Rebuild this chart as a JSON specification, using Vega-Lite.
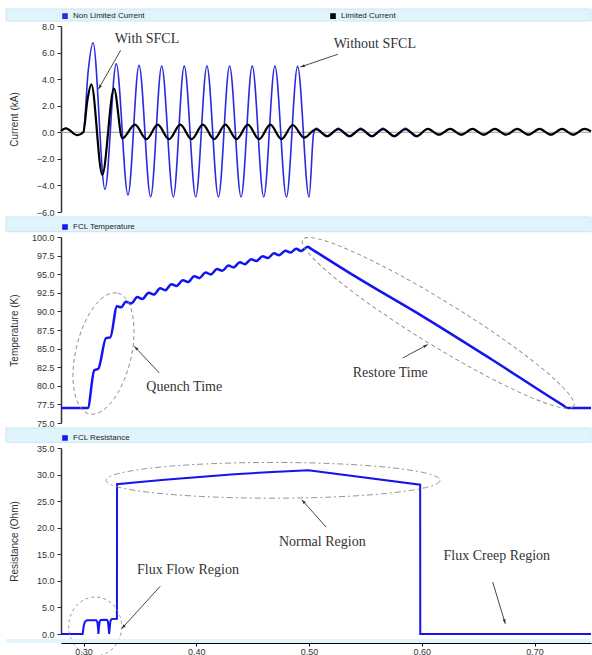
{
"$schema":"https://vega.github.io/schema/vega-lite/v6.json",
"padding":{"left":5,"top":8,"right":2,"bottom":0},
"background":"white",
"bounds":"flush",
"spacing":5,
"resolve":{"scale":{"color":"independent","y":"independent","x":"independent"},"legend":{"color":"independent"},"axis":{"y":"independent","x":"independent"}},
"config":{
  "view":{"stroke":null},
  "font":"Liberation Sans",
  "axis":{"grid":false,"labelOverlap":false,"labelSeparation":0,"domainColor":"#333333","domainWidth":1.5,"tickColor":"#333333","tickSize":4,"labelFont":"Liberation Sans","labelFontSize":9,"labelColor":"#333333","labelPadding":3,"titleFont":"Liberation Sans","titleFontSize":10,"titleFontWeight":"normal","titleColor":"#333333"},
  "legend":{"orient":"top","direction":"horizontal","offset":3,"padding":0,"symbolType":"square","symbolSize":9,"symbolStrokeWidth":2.6,"labelFont":"Liberation Sans","labelFontSize":8,"labelColor":"#222222","labelOffset":4}
},
"datasets":{
 "current":[
  {"s":"Non Limited Current","t":0.2800,"y":0.10},{"s":"Non Limited Current","t":0.2842,"y":0.30},{"s":"Non Limited Current","t":0.2945,"y":-0.22},{"s":"Non Limited Current","t":0.2998,"y":0.00},{"s":"Non Limited Current","t":0.3041,"y":4.60},{"s":"Non Limited Current","t":0.3084,"y":6.74},{"s":"Non Limited Current","t":0.3190,"y":-4.29},{"s":"Non Limited Current","t":0.3290,"y":5.16},{"s":"Non Limited Current","t":0.3394,"y":-4.72},{"s":"Non Limited Current","t":0.3492,"y":5.04},{"s":"Non Limited Current","t":0.3595,"y":-4.85},{"s":"Non Limited Current","t":0.3693,"y":4.98},{"s":"Non Limited Current","t":0.3796,"y":-4.87},{"s":"Non Limited Current","t":0.3893,"y":4.98},{"s":"Non Limited Current","t":0.3995,"y":-4.87},{"s":"Non Limited Current","t":0.4094,"y":4.98},{"s":"Non Limited Current","t":0.4196,"y":-4.87},{"s":"Non Limited Current","t":0.4295,"y":4.98},{"s":"Non Limited Current","t":0.4397,"y":-4.87},{"s":"Non Limited Current","t":0.4496,"y":4.98},{"s":"Non Limited Current","t":0.4598,"y":-4.87},{"s":"Non Limited Current","t":0.4697,"y":4.98},{"s":"Non Limited Current","t":0.4799,"y":-4.87},{"s":"Non Limited Current","t":0.4898,"y":4.96},{"s":"Non Limited Current","t":0.5000,"y":-4.87},{"s":"Non Limited Current","t":0.5040,"y":-0.10},{"s":"Non Limited Current","t":0.5065,"y":0.30},{"s":"Non Limited Current","t":0.5160,"y":-0.34},{"s":"Non Limited Current","t":0.5259,"y":0.30},{"s":"Non Limited Current","t":0.5359,"y":-0.34},{"s":"Non Limited Current","t":0.5458,"y":0.30},{"s":"Non Limited Current","t":0.5557,"y":-0.34},{"s":"Non Limited Current","t":0.5656,"y":0.30},{"s":"Non Limited Current","t":0.5755,"y":-0.34},{"s":"Non Limited Current","t":0.5854,"y":0.30},{"s":"Non Limited Current","t":0.5954,"y":-0.34},{"s":"Non Limited Current","t":0.6000,"y":-0.05},
  {"s":"Limited Current","t":0.2800,"y":0.10},{"s":"Limited Current","t":0.2842,"y":0.30},{"s":"Limited Current","t":0.2945,"y":-0.22},{"s":"Limited Current","t":0.2998,"y":0.00},{"s":"Limited Current","t":0.3034,"y":2.40},{"s":"Limited Current","t":0.3069,"y":3.60},{"s":"Limited Current","t":0.3166,"y":-3.20},{"s":"Limited Current","t":0.3270,"y":3.28},{"s":"Limited Current","t":0.3344,"y":-0.45},{"s":"Limited Current","t":0.3456,"y":0.58},{"s":"Limited Current","t":0.3558,"y":-0.52},{"s":"Limited Current","t":0.3658,"y":0.57},{"s":"Limited Current","t":0.3758,"y":-0.52},{"s":"Limited Current","t":0.3858,"y":0.57},{"s":"Limited Current","t":0.3958,"y":-0.52},{"s":"Limited Current","t":0.4058,"y":0.57},{"s":"Limited Current","t":0.4158,"y":-0.52},{"s":"Limited Current","t":0.4258,"y":0.57},{"s":"Limited Current","t":0.4357,"y":-0.52},{"s":"Limited Current","t":0.4457,"y":0.57},{"s":"Limited Current","t":0.4557,"y":-0.52},{"s":"Limited Current","t":0.4656,"y":0.57},{"s":"Limited Current","t":0.4756,"y":-0.52},{"s":"Limited Current","t":0.4855,"y":0.55},{"s":"Limited Current","t":0.4955,"y":-0.40},{"s":"Limited Current","t":0.5061,"y":0.23},{"s":"Limited Current","t":0.5160,"y":-0.28},{"s":"Limited Current","t":0.5259,"y":0.23},{"s":"Limited Current","t":0.5359,"y":-0.28},{"s":"Limited Current","t":0.5458,"y":0.23},{"s":"Limited Current","t":0.5557,"y":-0.28},{"s":"Limited Current","t":0.5656,"y":0.23},{"s":"Limited Current","t":0.5755,"y":-0.28},{"s":"Limited Current","t":0.5854,"y":0.23},{"s":"Limited Current","t":0.5954,"y":-0.28},{"s":"Limited Current","t":0.6053,"y":0.25},{"s":"Limited Current","t":0.6152,"y":-0.18},{"s":"Limited Current","t":0.6251,"y":0.25},{"s":"Limited Current","t":0.6350,"y":-0.18},{"s":"Limited Current","t":0.6449,"y":0.25},{"s":"Limited Current","t":0.6549,"y":-0.18},{"s":"Limited Current","t":0.6648,"y":0.25},{"s":"Limited Current","t":0.6747,"y":-0.18},{"s":"Limited Current","t":0.6846,"y":0.25},{"s":"Limited Current","t":0.6945,"y":-0.18},{"s":"Limited Current","t":0.7044,"y":0.25},{"s":"Limited Current","t":0.7144,"y":-0.18},{"s":"Limited Current","t":0.7243,"y":0.25},{"s":"Limited Current","t":0.7342,"y":-0.18},{"s":"Limited Current","t":0.7441,"y":0.25},{"s":"Limited Current","t":0.7500,"y":0.08}
 ],
 "temp":[
  {"t":0.2800,"y":77.0},{"t":0.3037,"y":77.0},{"t":0.3095,"y":82.1},{"t":0.3131,"y":82.3},{"t":0.3199,"y":86.4},{"t":0.3237,"y":86.5},{"t":0.3297,"y":90.7},{"t":0.3332,"y":90.55},{"t":0.3376,"y":91.30},{"t":0.3421,"y":91.05},{"t":0.3477,"y":91.92},{"t":0.3522,"y":91.67},{"t":0.3578,"y":92.52},{"t":0.3623,"y":92.27},{"t":0.3679,"y":93.10},{"t":0.3724,"y":92.85},{"t":0.3780,"y":93.66},{"t":0.3825,"y":93.41},{"t":0.3881,"y":94.20},{"t":0.3926,"y":93.95},{"t":0.3982,"y":94.72},{"t":0.4027,"y":94.47},{"t":0.4083,"y":95.22},{"t":0.4128,"y":94.97},{"t":0.4184,"y":95.70},{"t":0.4229,"y":95.45},{"t":0.4285,"y":96.16},{"t":0.4330,"y":95.91},{"t":0.4386,"y":96.60},{"t":0.4431,"y":96.35},{"t":0.4487,"y":97.02},{"t":0.4532,"y":96.77},{"t":0.4588,"y":97.42},{"t":0.4633,"y":97.17},{"t":0.4689,"y":97.80},{"t":0.4734,"y":97.55},{"t":0.4790,"y":98.16},{"t":0.4835,"y":97.91},{"t":0.4886,"y":98.42},{"t":0.4928,"y":98.12},{"t":0.4988,"y":98.70},{"t":0.5008,"y":98.51},{"t":0.5431,"y":94.50},{"t":0.6022,"y":89.20},{"t":0.6613,"y":83.60},{"t":0.7250,"y":77.40},{"t":0.7293,"y":77.0},{"t":0.7500,"y":77.0}
 ],
 "res":[
  {"t":0.2800,"y":0},{"t":0.2992,"y":0},{"t":0.3002,"y":1.6},{"t":0.3012,"y":2.3},{"t":0.3031,"y":2.6},{"t":0.3112,"y":2.6},{"t":0.3122,"y":2.3},{"t":0.3128,"y":1.2},{"t":0.3132,"y":0.0},{"t":0.3136,"y":1.2},{"t":0.3142,"y":2.3},{"t":0.3152,"y":2.65},{"t":0.3206,"y":2.7},{"t":0.3216,"y":2.4},{"t":0.3222,"y":1.2},{"t":0.3227,"y":0.0},{"t":0.3232,"y":1.2},{"t":0.3238,"y":2.4},{"t":0.3248,"y":2.8},{"t":0.3296,"y":2.85},{"t":0.3297,"y":28.2},{"t":0.3500,"y":28.6},{"t":0.3746,"y":29.05},{"t":0.4000,"y":29.5},{"t":0.4337,"y":30.05},{"t":0.4633,"y":30.45},{"t":0.4993,"y":30.8},{"t":0.5985,"y":28.1},{"t":0.5986,"y":0},{"t":0.7500,"y":0}
 ],
 "notes1":[{"t":0.3563,"y":7.02,"label":"With SFCL"},{"t":0.5583,"y":6.68,"label":"Without SFCL"}],
 "arrows1":[{"name":"with","t":0.3329,"y":6.17,"t2":0.3131,"y2":3.24},{"name":"without","t":0.5254,"y":5.87,"t2":0.4922,"y2":4.91}],
 "notes2":[{"t":0.3893,"y":79.8,"label":"Quench Time"},{"t":0.572,"y":81.75,"label":"Restore Time"}],
 "arrows2":[{"name":"quench","t":0.3672,"y":81.72,"t2":0.345,"y2":85.31},{"name":"restore","t":0.583,"y":83.74,"t2":0.6052,"y2":85.54}],
 "notes3":[{"t":0.5117,"y":17.3,"label":"Normal Region"},{"t":0.3926,"y":12.04,"label":"Flux Flow Region"},{"t":0.6665,"y":14.64,"label":"Flux Creep Region"}],
 "arrows3":[{"name":"normal","t":0.515,"y":20.14,"t2":0.4935,"y2":25.27},{"name":"flow","t":0.368,"y":8.98,"t2":0.3338,"y2":1.0},{"name":"creep","t":0.6628,"y":9.79,"t2":0.674,"y2":1.94}]
},
"vconcat":[
 {"width":530,"height":12,"data":{"values":[{}]},"mark":{"type":"rect","fill":"#e2f4fb","stroke":"#c6e7f4","strokeWidth":1},
  "encoding":{"x":{"datum":0.2312,"type":"quantitative","scale":{"domain":[0.28,0.75],"nice":false},"axis":null},"x2":{"datum":0.75}}},
 {"width":530,"height":186,
  "layer":[
   {"data":{"values":[{}]},"mark":{"type":"rule","color":"#9a9a9a","strokeWidth":1},"encoding":{"y":{"datum":0,"type":"quantitative","scale":{"domain":[-6,8],"nice":false},"axis":{"values":[-6,-4,-2,0,2,4,6,8],"tickCount":20,"format":".1f","title":"Current  (kA)","titleX":-47,"titleBaseline":"middle","labelOverlap":false}}}},
   {"data":{"name":"current"},"transform":[{"filter":"datum.s == 'Non Limited Current'"}],"mark":{"type":"line","interpolate":"monotone","strokeWidth":1.6},
    "encoding":{"x":{"field":"t","type":"quantitative","scale":{"domain":[0.28,0.75],"nice":false},"axis":null},
     "y":{"field":"y","type":"quantitative","title":"Current  (kA)"},
     "color":{"field":"s","type":"nominal","scale":{"domain":["Non Limited Current","Limited Current"],"range":["#2a2ae0","#000000"]},"legend":{"title":null,"columnPadding":181}}}},
   {"data":{"name":"current"},"transform":[{"filter":"datum.s == 'Limited Current'"}],"mark":{"type":"line","interpolate":"monotone","strokeWidth":2.2},
    "encoding":{"x":{"field":"t","type":"quantitative"},"y":{"field":"y","type":"quantitative","title":"Current  (kA)"},"color":{"field":"s","type":"nominal"}}},
   {"data":{"name":"notes1"},"mark":{"type":"text","font":"Liberation Serif","fontSize":14,"color":"#333333"},
    "encoding":{"x":{"field":"t","type":"quantitative"},"y":{"field":"y","type":"quantitative","title":"Current  (kA)"},"text":{"field":"label"}}},
   {"data":{"name":"arrows1"},"mark":{"type":"rule","color":"#333333","strokeWidth":0.9},
    "encoding":{"x":{"field":"t","type":"quantitative"},"y":{"field":"y","type":"quantitative","title":"Current  (kA)"},"x2":{"field":"t2"},"y2":{"field":"y2"}}},
   {"data":{"name":"arrows1"},"transform":[{"filter":"datum.name == 'with'"}],"mark":{"type":"point","shape":"M0,0L-0.6,1.8L0.6,1.8Z","size":25,"angle":211.3,"filled":true,"color":"#333333","opacity":1},
    "encoding":{"x":{"field":"t2","type":"quantitative"},"y":{"field":"y2","type":"quantitative","title":"Current  (kA)"}}},
   {"data":{"name":"arrows1"},"transform":[{"filter":"datum.name == 'without'"}],"mark":{"type":"point","shape":"M0,0L-0.6,1.8L0.6,1.8Z","size":25,"angle":251.2,"filled":true,"color":"#333333","opacity":1},
    "encoding":{"x":{"field":"t2","type":"quantitative"},"y":{"field":"y2","type":"quantitative","title":"Current  (kA)"}}}
  ]},
 {"width":530,"height":14.7,"data":{"values":[{}]},"mark":{"type":"rect","fill":"#e2f4fb","stroke":"#c6e7f4","strokeWidth":1},
  "encoding":{"x":{"datum":0.2312,"type":"quantitative","scale":{"domain":[0.28,0.75],"nice":false},"axis":null},"x2":{"datum":0.75}}},
 {"width":530,"height":186,
  "layer":[
   {"data":{"name":"temp"},"mark":{"type":"line","interpolate":"monotone","strokeWidth":2.5},
    "encoding":{"x":{"field":"t","type":"quantitative","scale":{"domain":[0.28,0.75],"nice":false},"axis":null},
     "y":{"field":"y","type":"quantitative","title":"Temperature (K)","scale":{"domain":[75,100],"nice":false},"axis":{"values":[75,77.5,80,82.5,85,87.5,90,92.5,95,97.5,100],"tickCount":20,"format":".1f","titleX":-47,"titleBaseline":"middle","labelOverlap":false}},
     "color":{"datum":"FCL Temperature","type":"nominal","scale":{"range":["#1414f0"]},"legend":{"title":null}}}},
   {"data":{"name":"notes2"},"mark":{"type":"text","font":"Liberation Serif","fontSize":14,"color":"#333333"},
    "encoding":{"x":{"field":"t","type":"quantitative"},"y":{"field":"y","type":"quantitative","title":"Temperature (K)"},"text":{"field":"label"}}},
   {"data":{"name":"arrows2"},"mark":{"type":"rule","color":"#333333","strokeWidth":0.9},
    "encoding":{"x":{"field":"t","type":"quantitative"},"y":{"field":"y","type":"quantitative","title":"Temperature (K)"},"x2":{"field":"t2"},"y2":{"field":"y2"}}},
   {"data":{"name":"arrows2"},"transform":[{"filter":"datum.name == 'quench'"}],"mark":{"type":"point","shape":"M0,0L-0.6,1.8L0.6,1.8Z","size":25,"angle":316.9,"filled":true,"color":"#333333","opacity":1},
    "encoding":{"x":{"field":"t2","type":"quantitative"},"y":{"field":"y2","type":"quantitative","title":"Temperature (K)"}}},
   {"data":{"name":"arrows2"},"transform":[{"filter":"datum.name == 'restore'"}],"mark":{"type":"point","shape":"M0,0L-0.6,1.8L0.6,1.8Z","size":25,"angle":61.8,"filled":true,"color":"#333333","opacity":1},
    "encoding":{"x":{"field":"t2","type":"quantitative"},"y":{"field":"y2","type":"quantitative","title":"Temperature (K)"}}},
   {"data":{"values":[{}]},"mark":{"type":"point","shape":"M1,0C1,0.2474,0.5523,0.448,0,0.448C-0.5523,0.448,-1,0.2474,-1,0C-1,-0.2474,-0.5523,-0.448,0,-0.448C0.5523,-0.448,1,-0.2474,1,0Z","size":15376,"angle":283.2,"filled":false,"stroke":"#8a8a8a","strokeWidth":0.9,"strokeDash":[4,3],"opacity":1},
    "encoding":{"x":{"datum":0.3177,"type":"quantitative"},"y":{"datum":84.34,"type":"quantitative","title":"Temperature (K)"}}},
   {"data":{"values":[{}]},"mark":{"type":"point","shape":"M1,0C1,0.0768,0.5523,0.139,0,0.139C-0.5523,0.139,-1,0.0768,-1,0C-1,-0.0768,-0.5523,-0.139,0,-0.139C0.5523,-0.139,1,-0.0768,1,0Z","size":101251,"angle":31.6,"filled":false,"stroke":"#8a8a8a","strokeWidth":0.9,"strokeDash":[4,3],"opacity":1},
    "encoding":{"x":{"datum":0.6145,"type":"quantitative"},"y":{"datum":88.45,"type":"quantitative","title":"Temperature (K)"}}}
  ]},
 {"width":530,"height":14.3,"data":{"values":[{}]},"mark":{"type":"rect","fill":"#e2f4fb","stroke":"#c6e7f4","strokeWidth":1},
  "encoding":{"x":{"datum":0.2312,"type":"quantitative","scale":{"domain":[0.28,0.75],"nice":false},"axis":null},"x2":{"datum":0.75}}},
 {"width":530,"height":186,
  "layer":[
   {"data":{"name":"res"},"mark":{"type":"line","interpolate":"linear","strokeWidth":2},
    "encoding":{"x":{"field":"t","type":"quantitative","scale":{"domain":[0.28,0.75],"nice":false},"axis":null},
     "y":{"field":"y","type":"quantitative","title":"Resistance (Ohm)","scale":{"domain":[0,35],"nice":false},"axis":{"values":[0,5,10,15,20,25,30,35],"tickCount":20,"format":".1f","titleX":-47,"titleBaseline":"middle","labelOverlap":false}},
     "color":{"datum":"FCL Resistance","type":"nominal","scale":{"range":["#1414f0"]},"legend":{"title":null}}}},
   {"data":{"name":"notes3"},"mark":{"type":"text","font":"Liberation Serif","fontSize":14,"color":"#333333"},
    "encoding":{"x":{"field":"t","type":"quantitative"},"y":{"field":"y","type":"quantitative","title":"Resistance (Ohm)"},"text":{"field":"label"}}},
   {"data":{"name":"arrows3"},"mark":{"type":"rule","color":"#333333","strokeWidth":0.9},
    "encoding":{"x":{"field":"t","type":"quantitative"},"y":{"field":"y","type":"quantitative","title":"Resistance (Ohm)"},"x2":{"field":"t2"},"y2":{"field":"y2"}}},
   {"data":{"name":"arrows3"},"transform":[{"filter":"datum.name == 'normal'"}],"mark":{"type":"point","shape":"M0,0L-0.6,1.8L0.6,1.8Z","size":25,"angle":318.3,"filled":true,"color":"#333333","opacity":1},
    "encoding":{"x":{"field":"t2","type":"quantitative"},"y":{"field":"y2","type":"quantitative","title":"Resistance (Ohm)"}}},
   {"data":{"name":"arrows3"},"transform":[{"filter":"datum.name == 'flow'"}],"mark":{"type":"point","shape":"M0,0L-0.6,1.8L0.6,1.8Z","size":25,"angle":222.3,"filled":true,"color":"#333333","opacity":1},
    "encoding":{"x":{"field":"t2","type":"quantitative"},"y":{"field":"y2","type":"quantitative","title":"Resistance (Ohm)"}}},
   {"data":{"name":"arrows3"},"transform":[{"filter":"datum.name == 'creep'"}],"mark":{"type":"point","shape":"M0,0L-0.6,1.8L0.6,1.8Z","size":25,"angle":163.2,"filled":true,"color":"#333333","opacity":1},
    "encoding":{"x":{"field":"t2","type":"quantitative"},"y":{"field":"y2","type":"quantitative","title":"Resistance (Ohm)"}}},
   {"data":{"values":[{}]},"mark":{"type":"point","shape":"M1,0C1,0.0591,0.5523,0.107,0,0.107C-0.5523,0.107,-1,0.0591,-1,0C-1,-0.0591,-0.5523,-0.107,0,-0.107C0.5523,-0.107,1,-0.0591,1,0Z","size":111556,"angle":0,"filled":false,"stroke":"#8a8a8a","strokeWidth":0.9,"strokeDash":[6,3,2,3],"opacity":1},
    "encoding":{"x":{"datum":0.468,"type":"quantitative"},"y":{"datum":28.92,"type":"quantitative","title":"Resistance (Ohm)"}}},
   {"data":{"values":[{}]},"mark":{"type":"point","shape":"M1,0C1,0.496,0.5523,0.898,0,0.898C-0.5523,0.898,-1,0.496,-1,0C-1,-0.496,-0.5523,-0.898,0,-0.898C0.5523,-0.898,1,-0.496,1,0Z","size":3481,"angle":90,"filled":false,"stroke":"#8a8a8a","strokeWidth":0.9,"strokeDash":[3,3],"opacity":1},
    "encoding":{"x":{"datum":0.3103,"type":"quantitative"},"y":{"datum":1.41,"type":"quantitative","title":"Resistance (Ohm)"}}}
  ]},
 {"width":530,"height":4,"data":{"values":[{}]},"mark":{"type":"rect","fill":"#e2f4fb"},
  "encoding":{"x":{"datum":0.2312,"type":"quantitative","scale":{"domain":[0.28,0.75],"nice":false},"axis":{"values":[0.3,0.4,0.5,0.6,0.7],"tickCount":20,"format":".2f","title":null,"tickSize":3,"labelPadding":1,"domainColor":"#000000","domainWidth":1.2,"tickColor":"#000000","labelFontSize":9}},"x2":{"datum":0.75}}}
]
}
